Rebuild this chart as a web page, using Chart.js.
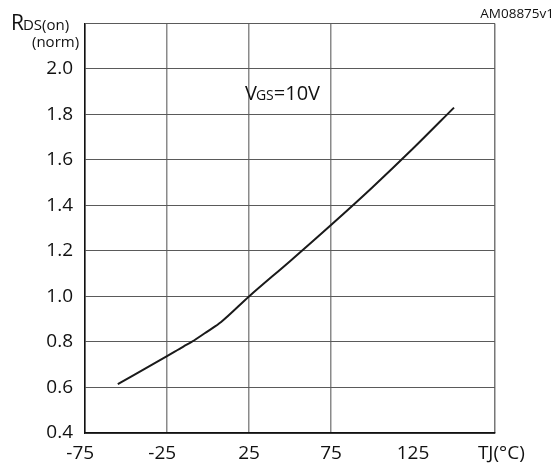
<!DOCTYPE html>
<html>
<head>
<meta charset="utf-8">
<script src="https://cdn.jsdelivr.net/npm/chart.js@4"></script>
<style>
html,body{margin:0;padding:0;background:#fff;}
#wrap{width:555px;height:470px;position:relative;}
</style>
</head>
<body>
<div id="wrap"><canvas id="c" width="555" height="470"></canvas></div>
<script>
// Data
const tempC = [-55, -25, -15, -10, 0, 8, 25, 50, 75, 100, 125, 150];
const rdsNorm = [0.615, 0.738, 0.78, 0.80, 0.848, 0.888, 1.0, 1.155, 1.314, 1.478, 1.65, 1.83];
const xTicks = [-75, -25, 25, 75, 125, 175];
const xTickLabels = ['-75', '-25', '25', '75', '125', 'TJ(°C)'];
const yTicks = [0.4, 0.6, 0.8, 1.0, 1.2, 1.4, 1.6, 1.8, 2.0, 2.2];
const yTickLabels = ['0.4', '0.6', '0.8', '1.0', '1.2', '1.4', '1.6', '1.8', '2.0', ''];

const FONT = "'Open Sans', 'Liberation Sans', sans-serif";

const textPlugin = {
  id: 'texts',
  afterDraw(chart) {
    const ctx = chart.ctx;
    ctx.save();
    ctx.fillStyle = '#111';
    ctx.textBaseline = 'alphabetic';
    ctx.textAlign = 'left';
    // R DS(on)
    ctx.font = "21px " + FONT;
    ctx.fillText('R', 11, 30);
    let w = ctx.measureText('R').width;
    ctx.font = "15px " + FONT;
    ctx.fillText('DS(on)', 11 + w - 1, 30);
    ctx.fillText('(norm)', 32, 47);
    // V GS=10V
    let x0 = 245, y0 = 100;
    ctx.font = "20px " + FONT;
    ctx.fillText('V', x0, y0);
    let wv = ctx.measureText('V').width;
    ctx.font = "14px " + FONT;
    ctx.fillText('GS', x0 + wv - 1, y0);
    let wg = ctx.measureText('GS').width;
    ctx.font = "20px " + FONT;
    ctx.fillText('=10V', x0 + wv - 1 + wg, y0);
    // ID
    ctx.font = "13.5px " + FONT;
    ctx.textAlign = 'right';
    ctx.fillText('AM08875v1', 554, 18);
    ctx.restore();
  }
};

new Chart(document.getElementById('c'), {
  type: 'scatter',
  data: {
    datasets: [{
      data: tempC.map((t, i) => ({x: t, y: rdsNorm[i]})),
      showLine: true,
      borderColor: '#1a1a1a',
      borderWidth: 2,
      pointRadius: 0,
      cubicInterpolationMode: 'monotone',
      fill: false
    }]
  },
  options: {
    responsive: false,
    animation: false,
    devicePixelRatio: 1,
    layout: {padding: {left: 0, right: 60, top: 23, bottom: 0}},
    plugins: {legend: {display: false}, tooltip: {enabled: false}},
    scales: {
      x: {
        type: 'linear',
        min: -75, max: 175,
        afterBuildTicks(s) { s.ticks = xTicks.map(v => ({value: v})); },
        afterFit(s) { s.height = 37; },
        ticks: {
          autoSkip: false,
          maxRotation: 0,
          padding: 9,
          color: '#111',
          font: {family: FONT, size: 19},
          callback(v) {
            const i = xTicks.indexOf(v);
            if (i < 0) return '';
            let l = xTickLabels[i];
            if (l.startsWith('-')) l = l + '\u2002';
            if (i === xTicks.length - 1) l = '\u2002\u2009' + l;
            return l;
          }
        },
        grid: {
          drawTicks: false,
          lineWidth: 1.5,
          color(c) {
            const v = c.tick && c.tick.value;
            if (v === 125) return 'rgba(0,0,0,0)';
            if (v === 175) return '#777';
            return '#8a8a8a';
          }
        },
        border: {display: true, color: '#111', width: 1.5}
      },
      y: {
        type: 'linear',
        min: 0.4, max: 2.2,
        afterBuildTicks(s) { s.ticks = yTicks.map(v => ({value: v})); },
        afterFit(s) { s.width = 85; },
        ticks: {
          padding: 12,
          color: '#111',
          font: {family: FONT, size: 19},
          callback(v) {
            const i = yTicks.findIndex(t => Math.abs(t - v) < 1e-6);
            return i < 0 ? '' : yTickLabels[i];
          }
        },
        grid: {
          drawTicks: false,
          lineWidth: 1,
          color: '#5a5a5a'
        },
        border: {display: true, color: '#111', width: 1.5}
      }
    }
  },
  plugins: [textPlugin]
});
</script>
</body>
</html>
